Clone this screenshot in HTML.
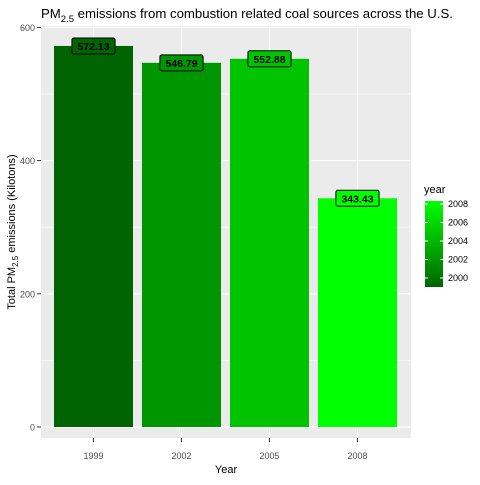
<!DOCTYPE html>
<html><head><meta charset="utf-8"><style>
body{margin:0;background:#fff;font-family:"Liberation Sans",Arial,sans-serif}
</style></head><body>
<svg width="480" height="480" xmlns="http://www.w3.org/2000/svg" font-family="Liberation Sans, Arial, sans-serif">
<rect width="480" height="480" fill="#fff"/>
<text x="41" y="18" text-anchor="start" font-size="13.2" fill="#000">PM<tspan font-size="9.5" dy="4">2.5</tspan><tspan dy="-4"> emissions from combustion related coal sources across the U.S.</tspan></text>
<rect x="41" y="26" width="370" height="412" fill="#EBEBEB"/>
<g id="grid"></g>
<g id="bars"></g>
<g id="yaxis"></g>
<g id="xaxis"></g>
<text transform="translate(15,232) rotate(-90)" text-anchor="middle" font-size="11">Total PM<tspan font-size="8" dy="3">2.5</tspan><tspan dy="-3"> emissions (Kilotons)</tspan></text>
<text x="226" y="473" text-anchor="middle" font-size="11">Year</text>
<g>
<text x="424" y="193" font-size="11">year</text>
<defs><linearGradient id="lg" x1="0" y1="1" x2="0" y2="0"><stop offset="0" stop-color="#006400"/><stop offset="1" stop-color="#00FF00"/></linearGradient></defs>
<rect x="425" y="201" width="18" height="86" fill="url(#lg)"/>
<g id="legticks"></g>
</g>
</svg>
<script>
const categories=["1999","2002","2005","2008"];
const values=[572.13,546.79,552.88,343.43];
const labels=["572.13","546.79","552.88","343.43"];
const colors=["#006400","#009600","#00C400","#00FF00"];
const yTicks=[0,200,400,600];
const legendTicks=[2000,2002,2004,2006,2008];
const NS="http://www.w3.org/2000/svg";
function mk(t,a,p){const e=document.createElementNS(NS,t);for(const k in a)e.setAttribute(k,a[k]);p.appendChild(e);return e;}
function y(v){return 427-v*(399.6/600);}
function x(i){return 93.5+i*88;}
const bw=79;
const grid=document.getElementById('grid');
yTicks.forEach((t,i)=>{
 const l=mk('line',{x1:41,x2:411,y1:y(t),y2:y(t),stroke:'#fff','stroke-width':1.1},grid);
 
 
 if(i<yTicks.length-1){const m=mk('line',{x1:41,x2:411,y1:y(t+100),y2:y(t+100),stroke:'#fff','stroke-width':0.5},grid);
 
 }
});
categories.forEach((c,i)=>{
 const l=mk('line',{x1:x(i),x2:x(i),y1:26,y2:438,stroke:'#fff','stroke-width':1.1},grid);
 
 
});
const bars=document.getElementById('bars');
categories.forEach((c,i)=>{
 const r=mk('rect',{x:x(i)-bw/2,y:y(values[i]),width:bw,height:y(0)-y(values[i]),fill:colors[i]},bars);
 
 
 const w=labels[i].length*6.2+6;
 const b=mk('rect',{x:x(i)-w/2,y:y(values[i])-8,width:w,height:16,rx:2,fill:colors[i],stroke:'#000','stroke-width':1},bars);
 
 
 const t=mk('text',{x:x(i),y:y(values[i])+4,'text-anchor':'middle','font-size':10.5,'font-weight':'bold',fill:'#000'},bars);
 t.textContent=labels[i];
 
 
});
const ya=document.getElementById('yaxis');
yTicks.forEach(t=>{
 mk('line',{x1:37,x2:41,y1:y(t),y2:y(t),stroke:'#333'},ya);
 const tx=mk('text',{x:35,y:y(t)+3.5,'text-anchor':'end','font-size':9,fill:'#4D4D4D'},ya);
 tx.textContent=t;
 
 
});
const xa=document.getElementById('xaxis');
categories.forEach((c,i)=>{
 mk('line',{x1:x(i),x2:x(i),y1:438,y2:442,stroke:'#333'},xa);
 const tx=mk('text',{x:x(i),y:459,'text-anchor':'middle','font-size':9,fill:'#4D4D4D'},xa);
 tx.textContent=c;
 
 
});
const lt=document.getElementById('legticks');
function ly(v){return 278-(v-2000)*(74/8);}
legendTicks.forEach(v=>{
 mk('line',{x1:425,x2:428,y1:ly(v),y2:ly(v),stroke:'#fff'},lt);
 mk('line',{x1:440,x2:443,y1:ly(v),y2:ly(v),stroke:'#fff'},lt);
 const tx=mk('text',{x:448,y:ly(v)+3,'font-size':9,fill:'#000'},lt);
 tx.textContent=v;
 
 
});
</script>
</body></html>
